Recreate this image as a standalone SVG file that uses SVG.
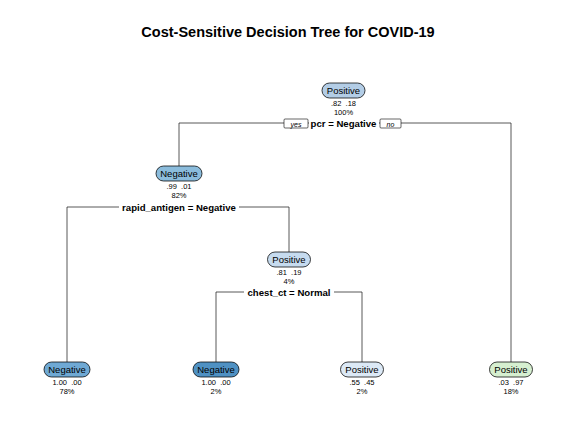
<svg xmlns="http://www.w3.org/2000/svg" width="576" height="432" viewBox="0 0 576 432">
<style>
.t{font-family:"Liberation Sans",Arial,sans-serif;}
.title{font-size:14.5px;font-weight:bold;text-anchor:middle;fill:#000;}
.lab{font-size:9.5px;text-anchor:middle;fill:#000;}
.num{font-size:7.5px;text-anchor:middle;fill:#000;white-space:pre;}
.split{font-size:9.6px;font-weight:bold;text-anchor:middle;fill:#000;}
.yn{font-size:7px;font-style:italic;text-anchor:middle;fill:#000;}
.box{stroke:#000;stroke-width:0.75;}
.edge{fill:none;stroke:#222;stroke-width:0.75;}
.ynbox{fill:#fff;stroke:#000;stroke-width:0.6;}
</style>
<rect width="576" height="432" fill="#fff"/>
<text class="t title" x="288" y="37">Cost-Sensitive Decision Tree for COVID-19</text>
<g id="connectors">
<path class="edge" d="M179,166 V123 H511 V362"/>
<path class="edge" d="M67,362 V207 H289 V252"/>
<path class="edge" d="M216,362 V292 H362 V362"/>
<rect class="ynbox" x="284" y="119" width="24" height="9" rx="1"/>
<text class="t yn" x="296" y="126.5">yes</text>
<rect class="ynbox" x="380" y="119" width="21" height="9" rx="1"/>
<text class="t yn" x="390.5" y="126.5">no</text>
</g>
<g id="node1">
<rect class="box" x="322" y="83" width="43" height="15" rx="7.5" fill="#b3cde6"/>
<text class="t lab" x="343.5" y="94">Positive</text>
<text class="t num" x="343.5" y="106" xml:space="preserve">.82  .18</text>
<text class="t num" x="343.5" y="115">100%</text>
<rect x="309" y="118" width="70" height="11" fill="#fff"/>
<text class="t split" x="343.5" y="127">pcr = Negative</text>
</g>
<g id="node2">
<rect class="box" x="156" y="166" width="46" height="15" rx="7.5" fill="#8bbcdc"/>
<text class="t lab" x="179" y="177">Negative</text>
<text class="t num" x="179" y="189" xml:space="preserve">.99  .01</text>
<text class="t num" x="179" y="198">82%</text>
<rect x="119" y="202" width="120" height="11" fill="#fff"/>
<text class="t split" x="179" y="211">rapid_antigen = Negative</text>
</g>
<g id="node3">
<rect class="box" x="44" y="362" width="46" height="15" rx="7.5" fill="#6fa9d4"/>
<text class="t lab" x="67" y="373">Negative</text>
<text class="t num" x="67" y="385" xml:space="preserve">1.00  .00</text>
<text class="t num" x="67" y="394">78%</text>
</g>
<g id="node4">
<rect class="box" x="267.5" y="252" width="43" height="15" rx="7.5" fill="#c6dbef"/>
<text class="t lab" x="289" y="263">Positive</text>
<text class="t num" x="289" y="275" xml:space="preserve">.81  .19</text>
<text class="t num" x="289" y="284">4%</text>
<rect x="244" y="287" width="90" height="11" fill="#fff"/>
<text class="t split" x="289" y="296">chest_ct = Normal</text>
</g>
<g id="node5">
<rect class="box" x="193" y="362" width="46" height="15" rx="7.5" fill="#4f91c3"/>
<text class="t lab" x="216" y="373">Negative</text>
<text class="t num" x="216" y="385" xml:space="preserve">1.00  .00</text>
<text class="t num" x="216" y="394">2%</text>
</g>
<g id="node6">
<rect class="box" x="340.5" y="362" width="43" height="15" rx="7.5" fill="#dce9f6"/>
<text class="t lab" x="362" y="373">Positive</text>
<text class="t num" x="362" y="385" xml:space="preserve">.55  .45</text>
<text class="t num" x="362" y="394">2%</text>
</g>
<g id="node7">
<rect class="box" x="489.5" y="362" width="43" height="15" rx="7.5" fill="#d6efd0"/>
<text class="t lab" x="511" y="373">Positive</text>
<text class="t num" x="511" y="385" xml:space="preserve">.03  .97</text>
<text class="t num" x="511" y="394">18%</text>
</g>
</svg>
